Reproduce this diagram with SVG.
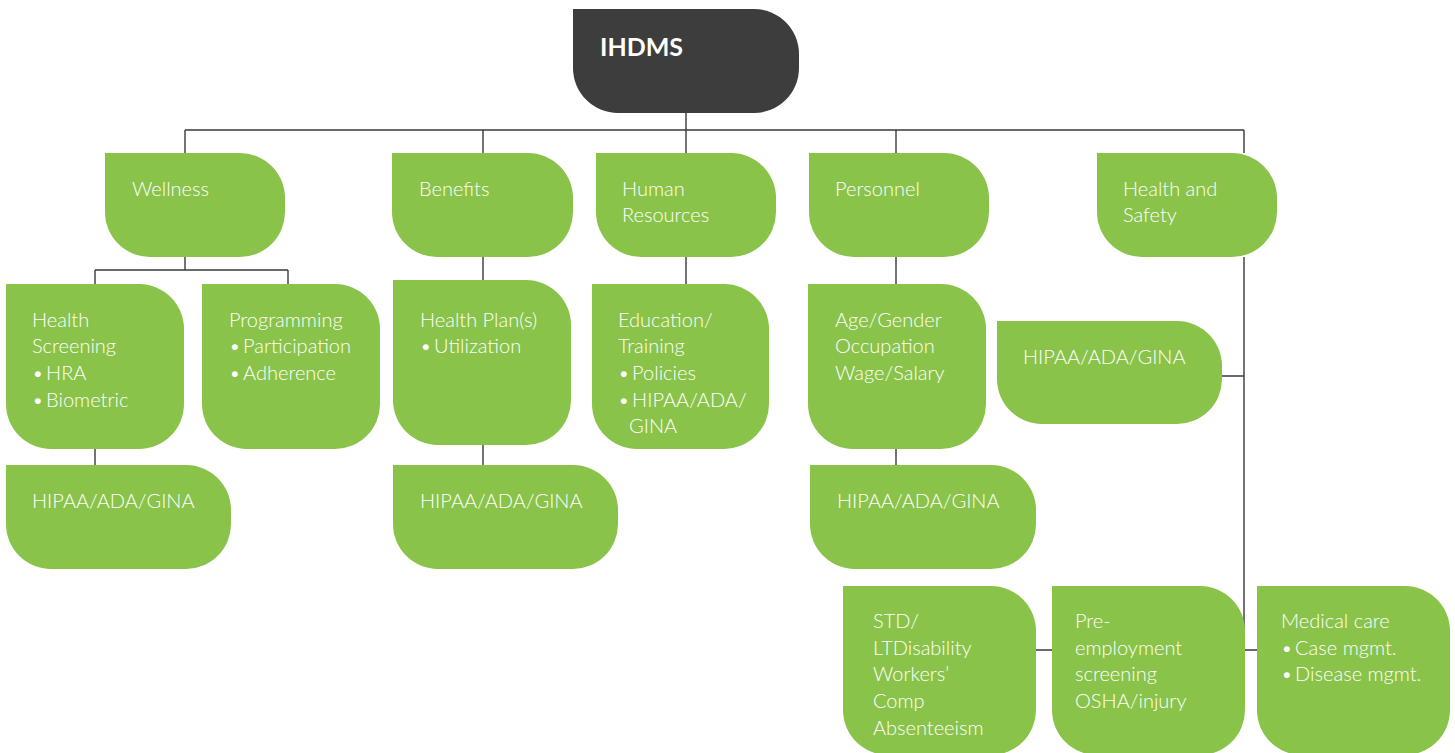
<svg xmlns="http://www.w3.org/2000/svg" width="1455" height="753" viewBox="0 0 1455 753">
<style>
.box{fill:#89c349}
.root{fill:#3d3d3d}
.t{font-family:Lato,"Open Sans","Liberation Sans",sans-serif;font-weight:300;font-size:20px;fill:#ffffff}
.rt{font-family:Lato,"Open Sans","Liberation Sans",sans-serif;font-weight:700;font-size:25px;fill:#ffffff}
.c{fill:none;stroke:#3a3a3a;stroke-width:1.4}
</style>
<rect width="1455" height="753" fill="#ffffff"/>
<g id="connectors">
<path class="c" d="M686 113V130M185 130H1244M185 130V153M483 130V153M686 130V153M896 130V153M1244 130V153"/>
<path class="c" d="M185 257V270M95 270H288M95 270V284M288 270V284M95 449V465"/>
<path class="c" d="M483 257V280M483 445V465M686 257V284M896 257V284M896 449V465"/>
<path class="c" d="M1244 257V640M1222 376H1244M1244 650H1257M1036 650H1052"/>
</g>
<g id="n-ihdms"><path class="root" d="M573 9H754A45 45 0 0 1 799 54V68A45 45 0 0 1 754 113H618A45 45 0 0 1 573 68Z"/><text class="rt" x="600" y="56">IHDMS</text></g>
<g id="n-wellness"><path class="box" d="M105 153H240A45 45 0 0 1 285 198V212A45 45 0 0 1 240 257H150A45 45 0 0 1 105 212Z"/><text class="t" x="132" y="196">Wellness</text></g>
<g id="n-benefits"><path class="box" d="M392 153H528A45 45 0 0 1 573 198V212A45 45 0 0 1 528 257H437A45 45 0 0 1 392 212Z"/><text class="t" x="419" y="196">Benefits</text></g>
<g id="n-hr"><path class="box" d="M596 153H731A45 45 0 0 1 776 198V212A45 45 0 0 1 731 257H641A45 45 0 0 1 596 212Z"/><text class="t" x="622" y="196">Human</text><text class="t" x="622" y="222">Resources</text></g>
<g id="n-personnel"><path class="box" d="M809 153H944A45 45 0 0 1 989 198V212A45 45 0 0 1 944 257H854A45 45 0 0 1 809 212Z"/><text class="t" x="835" y="196">Personnel</text></g>
<g id="n-hs"><path class="box" d="M1097 153H1232A45 45 0 0 1 1277 198V212A45 45 0 0 1 1232 257H1142A45 45 0 0 1 1097 212Z"/><text class="t" x="1123" y="196">Health and</text><text class="t" x="1123" y="222">Safety</text></g>
<g id="n-screening"><path class="box" d="M6 284H139A45 45 0 0 1 184 329V404A45 45 0 0 1 139 449H51A45 45 0 0 1 6 404Z"/><text class="t" x="32" y="327">Health</text><text class="t" x="32" y="353">Screening</text><text class="t" x="32" y="380">•&#8201;HRA</text><text class="t" x="32" y="407">•&#8201;Biometric</text></g>
<g id="n-programming"><path class="box" d="M202 284H335A45 45 0 0 1 380 329V404A45 45 0 0 1 335 449H247A45 45 0 0 1 202 404Z"/><text class="t" x="229" y="327">Programming</text><text class="t" x="229" y="353">•&#8201;Participation</text><text class="t" x="229" y="380">•&#8201;Adherence</text></g>
<g id="n-w-hipaa"><path class="box" d="M6 465H186A45 45 0 0 1 231 510V524A45 45 0 0 1 186 569H51A45 45 0 0 1 6 524Z"/><text class="t" x="32" y="508">HIPAA/ADA/GINA</text></g>
<g id="n-healthplan"><path class="box" d="M393 280H526A45 45 0 0 1 571 325V400A45 45 0 0 1 526 445H438A45 45 0 0 1 393 400Z"/><text class="t" x="420" y="327">Health Plan(s)</text><text class="t" x="420" y="353">•&#8201;Utilization</text></g>
<g id="n-b-hipaa"><path class="box" d="M393 465H573A45 45 0 0 1 618 510V524A45 45 0 0 1 573 569H438A45 45 0 0 1 393 524Z"/><text class="t" x="420" y="508">HIPAA/ADA/GINA</text></g>
<g id="n-education"><path class="box" d="M592 284H724A45 45 0 0 1 769 329V404A45 45 0 0 1 724 449H637A45 45 0 0 1 592 404Z"/><text class="t" x="618" y="327">Education/</text><text class="t" x="618" y="353">Training</text><text class="t" x="618" y="380">•&#8201;Policies</text><text class="t" x="618" y="407">•&#8201;HIPAA/ADA/</text><text class="t" x="629" y="433">GINA</text></g>
<g id="n-age"><path class="box" d="M808 284H941A45 45 0 0 1 986 329V404A45 45 0 0 1 941 449H853A45 45 0 0 1 808 404Z"/><text class="t" x="835" y="327">Age/Gender</text><text class="t" x="835" y="353">Occupation</text><text class="t" x="835" y="380">Wage/Salary</text></g>
<g id="n-p-hipaa"><path class="box" d="M810 465H991A45 45 0 0 1 1036 510V524A45 45 0 0 1 991 569H855A45 45 0 0 1 810 524Z"/><text class="t" x="837" y="508">HIPAA/ADA/GINA</text></g>
<g id="n-hs-hipaa"><path class="box" d="M997 321H1177A45 45 0 0 1 1222 366V379A45 45 0 0 1 1177 424H1042A45 45 0 0 1 997 379Z"/><text class="t" x="1023" y="364">HIPAA/ADA/GINA</text></g>
<g id="n-std"><path class="box" d="M843 586H991A45 45 0 0 1 1036 631V710A45 45 0 0 1 991 755H888A45 45 0 0 1 843 710Z"/><text class="t" x="873" y="628">STD/</text><text class="t" x="873" y="655">LTDisability</text><text class="t" x="873" y="681">Workers’</text><text class="t" x="873" y="708">Comp</text><text class="t" x="873" y="735">Absenteeism</text></g>
<g id="n-pre"><path class="box" d="M1052 586H1200A45 45 0 0 1 1245 631V710A45 45 0 0 1 1200 755H1097A45 45 0 0 1 1052 710Z"/><text class="t" x="1075" y="628">Pre-</text><text class="t" x="1075" y="655">employment</text><text class="t" x="1075" y="681">screening</text><text class="t" x="1075" y="708">OSHA/injury</text></g>
<g id="n-medical"><path class="box" d="M1257 586H1405A45 45 0 0 1 1450 631V710A45 45 0 0 1 1405 755H1302A45 45 0 0 1 1257 710Z"/><text class="t" x="1281" y="628">Medical care</text><text class="t" x="1281" y="655">•&#8201;Case mgmt.</text><text class="t" x="1281" y="681">•&#8201;Disease mgmt.</text></g>
</svg>
